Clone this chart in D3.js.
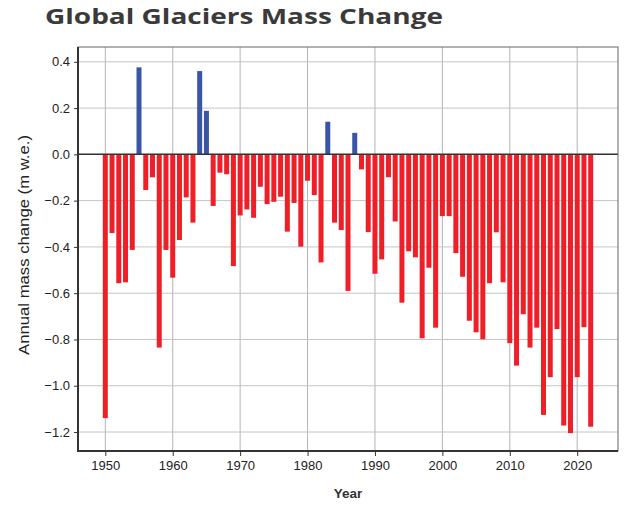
<!DOCTYPE html>
<html><head><meta charset="utf-8">
<script src="https://cdn.jsdelivr.net/npm/d3@7"></script>
<style>body{margin:0;background:#fff;}</style>
</head><body><svg id="c" width="628" height="505"></svg>
<script>
const years = d3.range(1950, 2023);
const values = [
 -1.14,-0.34,-0.557,-0.553,-0.413,0.376,-0.154,-0.099,-0.835,-0.413,
 -0.533,-0.37,-0.186,-0.295,0.36,0.188,-0.223,-0.079,-0.086,-0.483,
 -0.264,-0.238,-0.274,-0.14,-0.215,-0.205,-0.183,-0.334,-0.21,-0.399,
 -0.114,-0.176,-0.467,0.141,-0.295,-0.327,-0.59,0.093,-0.065,-0.336,
 -0.516,-0.454,-0.099,-0.29,-0.641,-0.419,-0.445,-0.795,-0.49,-0.749,
 -0.267,-0.267,-0.427,-0.529,-0.719,-0.769,-0.799,-0.557,-0.337,-0.553,
 -0.816,-0.913,-0.691,-0.835,-0.749,-1.126,-0.963,-0.755,-1.172,-1.205,
 -0.963,-0.747,-1.177
];
const xTicks = [1950,1960,1970,1980,1990,2000,2010,2020];
const yTicks = [0.4,0.2,0.0,-0.2,-0.4,-0.6,-0.8,-1.0,-1.2];
const title = "Global Glaciers Mass Change";
const xTitle = "Year";
const yTitle = "Annual mass change (m w.e.)";

const svg = d3.select("#c");
const L=78, R=618, T=47, B=451;
const x = d3.scaleLinear().domain([1945.95, 2026.05]).range([L, R]);
const y = d3.scaleLinear().domain([0.464, -1.282]).range([T, B]);

svg.append("text").attr("x",45).attr("y",24).text(title)
  .attr("font-family","'Open Sans', sans-serif").attr("font-weight","bold")
  .attr("font-size",22).attr("fill","#3a3a3a")
  .attr("textLength",398).attr("lengthAdjust","spacingAndGlyphs");

// grid
const g = svg.append("g");
g.selectAll(".vg").data(xTicks).join("line")
  .attr("x1",d=>x(d)).attr("x2",d=>x(d)).attr("y1",T).attr("y2",B)
  .attr("stroke","#b4b4b4").attr("stroke-width",1);
g.selectAll(".hg").data(yTicks).join("line")
  .attr("y1",d=>y(d)).attr("y2",d=>y(d)).attr("x1",L).attr("x2",R)
  .attr("stroke","#c4c4c4").attr("stroke-width",1);

// bars
const bw = 5;
g.selectAll(".bar").data(years).join("rect")
  .attr("x",(d)=>x(d)-bw/2).attr("width",bw)
  .attr("y",(d,i)=>Math.min(y(values[i]),y(0)))
  .attr("height",(d,i)=>Math.abs(y(values[i])-y(0)))
  .attr("fill",(d,i)=>values[i]>=0?"#3a55a6":"#ee1f27");

// zero line
g.append("line").attr("x1",L).attr("x2",R).attr("y1",y(0)).attr("y2",y(0))
  .attr("stroke","#333").attr("stroke-width",1.5);

// frame
svg.append("rect").attr("x",L).attr("y",T).attr("width",R-L).attr("height",B-T)
  .attr("fill","none").attr("stroke","#666").attr("stroke-width",1);
svg.append("line").attr("x1",L).attr("x2",L).attr("y1",T).attr("y2",B+1).attr("stroke","#333").attr("stroke-width",2);
svg.append("line").attr("x1",L-1).attr("x2",R).attr("y1",B).attr("y2",B).attr("stroke","#333").attr("stroke-width",2);

// axes
const xAxis = svg.append("g").attr("transform",`translate(0,${B})`)
  .call(d3.axisBottom(x).tickValues(xTicks).tickFormat(d3.format("d")).tickSize(5).tickPadding(5));
xAxis.select(".domain").remove();
const yAxis = svg.append("g").attr("transform",`translate(${L},0)`)
  .call(d3.axisLeft(y).tickValues(yTicks).tickFormat(d3.format(".1f")).tickSize(4).tickPadding(4));
yAxis.select(".domain").remove();
svg.selectAll(".tick text").attr("font-family","'Liberation Sans', Arial, sans-serif")
  .attr("font-size",13).attr("fill","#222");
svg.selectAll(".tick line").attr("stroke","#333");

svg.append("text").attr("x",(L+R)/2).attr("y",498).attr("text-anchor","middle")
  .text(xTitle).attr("font-family","'Liberation Sans', Arial, sans-serif")
  .attr("font-weight","bold").attr("font-size",13.5).attr("fill","#333");
svg.append("text").attr("transform",`translate(29,245) rotate(-90)`)
  .attr("text-anchor","middle").text(yTitle)
  .attr("font-family","'Liberation Sans', Arial, sans-serif")
  .attr("font-size",15).attr("fill","#222")
  .attr("textLength",220).attr("lengthAdjust","spacingAndGlyphs");
</script></body></html>
